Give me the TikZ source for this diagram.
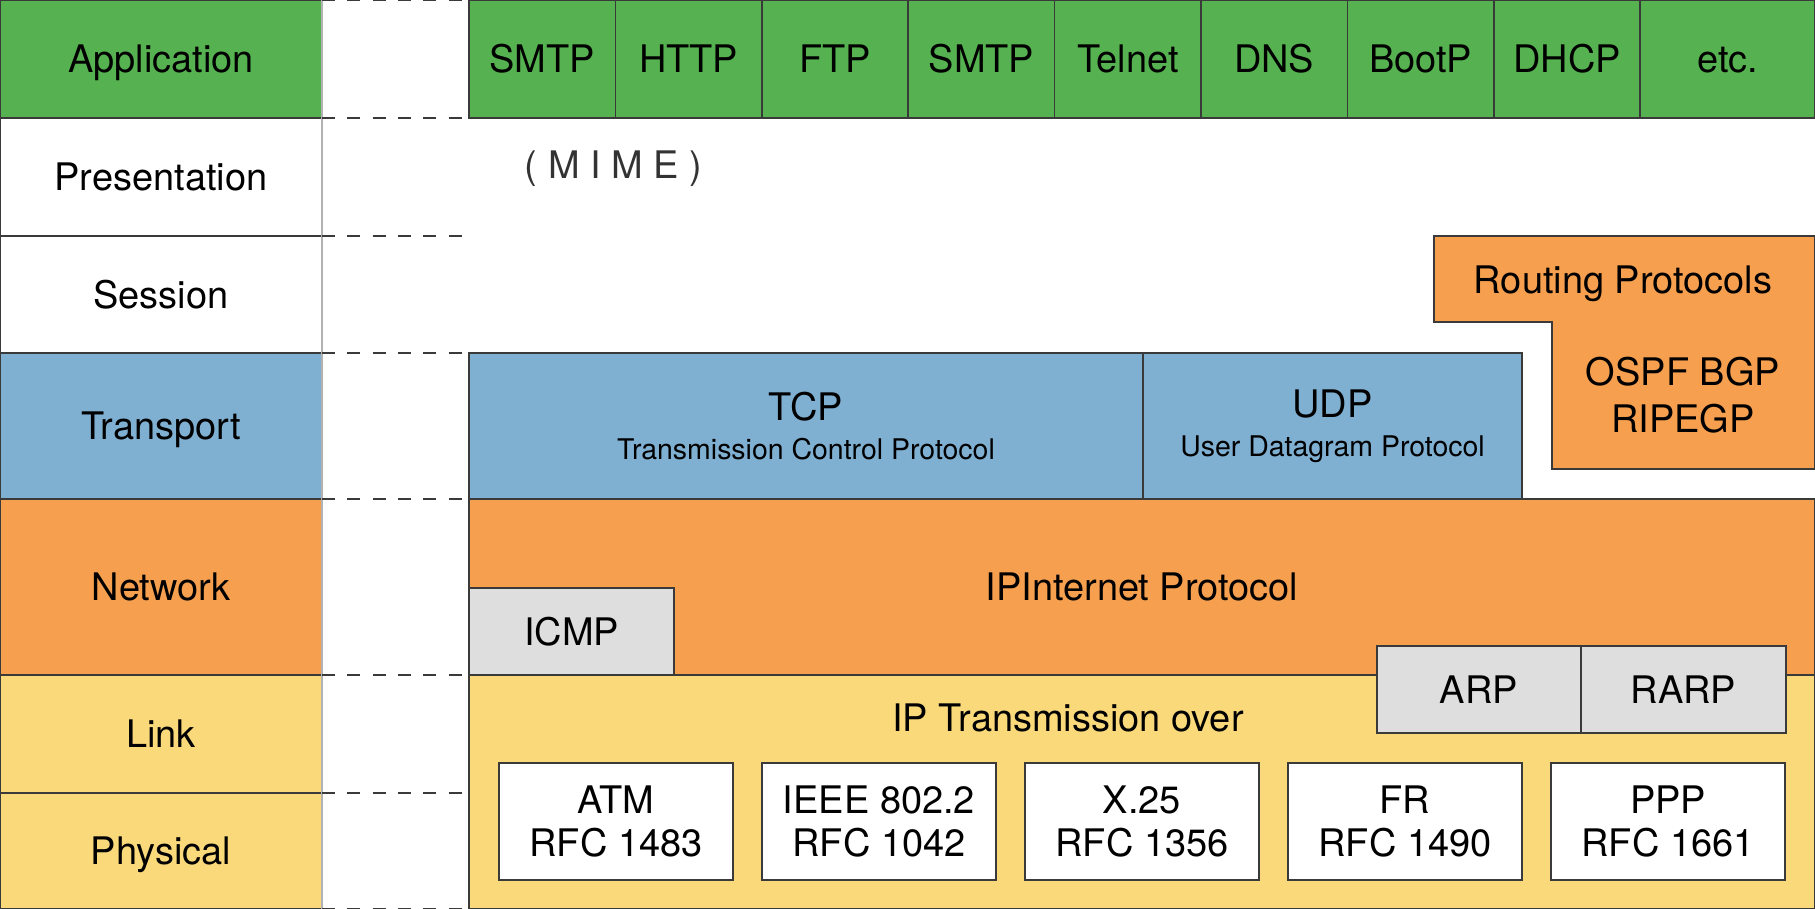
\documentclass[tikz,border=0pt]{standalone}
\usepackage{fontspec}
\setmainfont{TeX Gyre Heros}
\usetikzlibrary{positioning}
\definecolor{appgreen}{HTML}{56B250}
\definecolor{tcpblue}{HTML}{7FAFD1}
\definecolor{netorange}{HTML}{F6A04F}
\definecolor{linkyellow}{HTML}{F9D97A}
\definecolor{boxgrey}{HTML}{DEDEDE}
\definecolor{edge}{HTML}{3A3A3A}
\newcommand{\fullname}[1]{{\fontsize{8.1}{11}\selectfont #1}}

\begin{document}
\begin{tikzpicture}
  [font=\fontsize{10.8}{12.5}\selectfont,
  every node/.style={inner sep=0pt,outer sep=0pt},
  oneline/.style={text height=7.8pt,text depth=0pt},
  layer/.style={rectangle,draw=edge,line width=.5pt,minimum width=32.2mm,oneline},
  proto/.style={rectangle,draw=edge,line width=.5pt,anchor=north west},
  media/.style={rectangle,draw=edge,line width=.5pt,fill=white,minimum width=23.4mm,
    minimum height=11.7mm,align=center},
  guide/.style={draw=edge,line width=.6pt,dash pattern=on 3.7pt off 3.5pt}]
  \useasboundingbox (0,0) rectangle (18.15,-9.09);
  % OSI layers on the left
  \node [layer,fill=appgreen,minimum height=11.8mm,anchor=north west] (app) at (0,0) {Application};
  \node [layer,minimum height=11.8mm] (pres) [below=0pt of app] {Presentation};
  \node [layer,minimum height=11.7mm] (sess) [below=0pt of pres] {Session};
  \node [layer,fill=tcpblue,minimum height=14.6mm] (trans) [below=0pt of sess] {Transport};
  \node [layer,fill=netorange,minimum height=17.6mm] (net) [below=0pt of trans] {Network};
  \node [layer,fill=linkyellow,minimum height=11.8mm] (link) [below=0pt of net] {Link};
  \node [layer,fill=linkyellow,minimum height=11.6mm] (phys) [below=0pt of link] {Physical};
  \draw [black!30,line width=.8pt] (app.north east) -- (phys.south east);
  \draw [guide] (app.north east) -- +(14.7mm,0);
  \foreach \n in {app,pres,sess,trans,net,link,phys}
    \draw [guide] (\n.south east) -- +(14.7mm,0);
  % application protocols
  \foreach \p [count=\i] in {SMTP,HTTP,FTP,SMTP,Telnet,DNS,BootP,DHCP}
    \node [proto,oneline,fill=appgreen,minimum width=14.64mm,minimum height=11.8mm] (a\i)
      at ({4.69+(\i-1)*1.464},0) {\p};
  \node [proto,oneline,fill=appgreen,minimum width=17.5mm,minimum height=11.8mm] (etc) [right=0pt of a8] {etc.};
  \node [oneline,text=black!80] (mime) at (6.135,-1.65) {( M I M E )};
  % routing protocols
  \draw [draw=edge,line width=.5pt,fill=netorange] (14.34,-2.36) -- (18.15,-2.36) -- (18.15,-4.69)
    -- (15.52,-4.69) -- (15.52,-3.22) -- (14.34,-3.22) -- cycle;
  \node [oneline] (routing) at (16.23,-2.80) {Routing Protocols};
  \node [align=center] (igp) at (16.83,-3.95) {OSPF BGP\\[1pt]RIPEGP};
  % transport
  \node [proto,fill=tcpblue,minimum width=67.4mm,minimum height=14.6mm,align=center] (tcp)
    at (4.69,-3.53) {TCP\\[-1.5pt]\fullname{Transmission Control Protocol}};
  \node [proto,fill=tcpblue,minimum width=37.9mm,minimum height=14.6mm,align=center] (udp)
    [right=0pt of tcp] {UDP\\[-1.5pt]\fullname{User Datagram Protocol}};
  % network
  \node [proto,oneline,fill=netorange,minimum width=134.6mm,minimum height=17.6mm] (ip)
    at (4.69,-4.99) {IPInternet Protocol};
  \node [proto,oneline,fill=boxgrey,minimum width=20.5mm,minimum height=8.7mm,anchor=south west] (icmp)
    at (ip.south west) {ICMP};
  % link and physical
  \node [proto,fill=linkyellow,minimum width=134.6mm,minimum height=23.4mm] (over) [below=0pt of ip] {};
  \node [oneline] (overtext) at (10.68,-7.18) {IP Transmission over};
  \node [proto,oneline,fill=boxgrey,minimum width=20.4mm,minimum height=8.7mm] (arp) at (13.77,-6.46) {ARP};
  \node [proto,oneline,fill=boxgrey,minimum width=20.5mm,minimum height=8.7mm] (rarp) [right=0pt of arp] {RARP};
  \foreach \n/\t/\r [count=\i from 0] in {atm/ATM/1483,ieee/IEEE 802.2/1042,x25/X.25/1356,fr/FR/1490,ppp/PPP/1661}
    \node [media] (\n) at ({6.16+\i*2.63},-8.215) {\t\\RFC \r};
\end{tikzpicture}
\end{document}
